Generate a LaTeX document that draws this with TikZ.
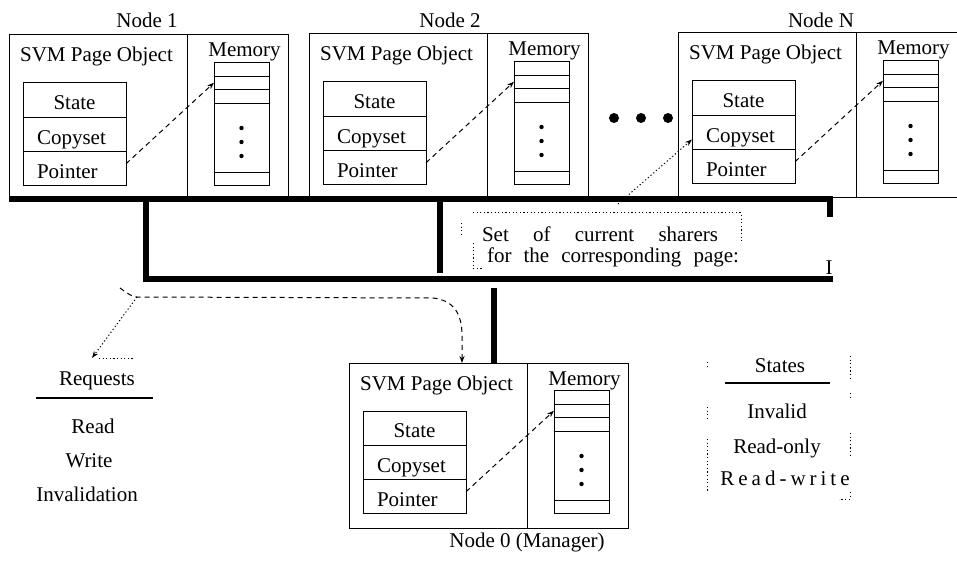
\documentclass[tikz,border=0pt]{standalone}
\usepackage{fontspec}
\setmainfont{Liberation Serif}
\usetikzlibrary{arrows.meta,calc}

\tikzset{
  lbl/.style={font=\fontsize{21}{25}\selectfont, inner sep=0pt, outer sep=0pt},
  thinline/.style={line width=1pt},
  frame/.style={draw, line width=1pt, inner sep=0pt, outer sep=0pt,
    minimum width=279pt, minimum height=165pt},
  cell/.style={draw, line width=1pt, inner sep=0pt, outer sep=0pt,
    minimum width=103pt, minimum height=34.3pt},
  memcell/.style={draw, line width=0.9pt, inner sep=0pt, outer sep=0pt,
    minimum width=55pt},
  bus/.style={line width=5.5pt, line join=miter},
  rule/.style={line width=1.8pt},
  dashline/.style={line width=1pt, dash pattern=on 5pt off 4pt},
  dotline/.style={line width=1pt, dash pattern=on 1.2pt off 2.4pt},
  tip/.style={-{Stealth[length=7pt,width=5pt]}},
}

% One node of the system: page object record and its memory column
\newcommand\svmunit[4]{%
  \node[frame, #4, anchor=north west] (#1) at (#2,#3) {};
  \draw[thinline] ($(#1.north west)+(178,0)$) -- ($(#1.south west)+(178,0)$);
  \node[lbl, anchor=base] (#1-title) at ($(#1.north west)+(87.5,27)$) {SVM Page Object};
  \node[lbl, anchor=base] (#1-ml) at ($(#1.north west)+(235.5,22)$) {Memory};
  \node[cell, anchor=north west] (#1-s) at ($(#1.north west)+(14,48)$) {};
  \node[cell, anchor=north] (#1-c) at (#1-s.south) {};
  \node[cell, anchor=north] (#1-p) at (#1-c.south) {};
  \node[lbl, anchor=base] (#1-st) at ($(#1-s.south)+(0,-8)$) {State};
  \node[lbl, anchor=base west] (#1-ct) at ($(#1-c.south west)+(14,-7.5)$) {Copyset};
  \node[lbl, anchor=base west] (#1-pt) at ($(#1-p.south west)+(14,-7)$) {Pointer};
  \node[memcell, minimum height=14pt, anchor=north west] (#1-m1) at ($(#1.north west)+(205,27)$) {};
  \node[memcell, minimum height=13.5pt, anchor=north] (#1-m2) at (#1-m1.south) {};
  \node[memcell, minimum height=13.5pt, anchor=north] (#1-m3) at (#1-m2.south) {};
  \node[memcell, minimum height=69.5pt, anchor=north] (#1-m4) at (#1-m3.south) {};
  \node[memcell, minimum height=13pt, anchor=north] (#1-m5) at (#1-m4.south) {};
  \foreach \dy in {25,39,53} \fill ($(#1-m4.north)+(0,\dy)$) circle (2.2pt);
  \draw[dashline, tip] ([yshift=5pt]#1-p.east) -- (#1-m2.west);
}

\begin{document}
\begin{tikzpicture}[x=1pt, y=-1pt]
\useasboundingbox (0,0) rectangle (957,561);

% the sharing nodes
\svmunit{A}{9}{35}{}
\svmunit{B}{309}{34}{}
\svmunit{N}{678}{33}{draw=none}
\draw[thinline] (N.north east) -- (N.north west) -- (N.south west) -- (N.south east);
\svmunit{M}{349}{363}{}

\node[lbl, anchor=base] (lA) at (147,28) {Node 1};
\node[lbl, anchor=base] (lB) at (450,28) {Node 2};
\node[lbl, anchor=base] (lN) at (821,28) {Node N};
\node[lbl, anchor=base] (lM) at (527,547) {Node 0 (Manager)};

% ellipsis between node 2 and node N
\foreach \x in {614,641,668} \fill (\x,118) circle (5pt);

% interconnect
\draw[bus] (9,199) -- (830,199) -- (830,217);
\draw[bus] (146,199) |- (833,279);
\draw[bus] (440,199) -- (440,273);
\draw[bus] (494,288) -- ($(M.north west)+(145,0)$);
\node[lbl, anchor=base] (ibar) at (829,274) {I};

% sharers annotation
\draw[dotline] (473,213) -- (741,213) -- (741,243);
\draw[dotline] (461,223) -- (461,235);
\draw[dotline] (473,243) -- (473,268) -- (482,268);
\node[lbl, anchor=base west] (sh1) at (482,241) {\makebox[236pt][s]{Set of current sharers}};
\node[lbl, anchor=base west] (sh2) at (487,262) {\makebox[252pt][s]{for the corresponding page:}};
\coordinate (shs) at (618,204);
\draw[dotline, tip] (shs) -- ([yshift=-7pt]N-c.west);

% request path to the manager
\coordinate (rqs) at (120,288);
\coordinate (rq) at (137,297);
\coordinate (rqtip) at (92,358);
\draw[dashline, tip] (rqs) .. controls (127,293) and (132,297) .. (rq)
  -- (433,298) .. controls (452,300) and (462,312) .. (462,335)
  -- ($(M.north west)+(113,0)$);
\draw[dotline, tip] (rq) -- (rqtip);
\draw[dotline] (99,358) -- (133,358);

% request types
\node[lbl, anchor=base] (rqt) at (97,385) {Requests};
\draw[rule] (36,398) -- (153,398);
\node[lbl, anchor=base] (rq1) at (93,433) {Read};
\node[lbl, anchor=base] (rq2) at (89,467) {Write};
\node[lbl, anchor=base] (rq3) at (87,501) {Invalidation};

% page states
\node[lbl, anchor=base] (stt) at (780,372) {States};
\draw[rule] (725,383) -- (830,383);
\node[lbl, anchor=base] (st1) at (777,418) {Invalid};
\node[lbl, anchor=base] (st2) at (777,453) {Read-only};
\node[lbl, anchor=base] (st3) at (785,485)
  {R\kern4pt e\kern4pt a\kern4pt d\kern4pt -\kern4pt w\kern4pt r\kern4pt i\kern4pt t\kern4pt e};
\draw[dotline] (707,362) -- (707,369);
\draw[dotline] (707,407) -- (707,420);
\draw[dotline] (707,439) -- (707,493);
\draw[dotline] (850,356) -- (850,379);
\draw[dotline] (850,393) -- (850,400);
\draw[dotline] (850,433) -- (850,457);
\draw[dotline] (850,492) -- (850,499) -- (839,499);
\end{tikzpicture}
\end{document}
